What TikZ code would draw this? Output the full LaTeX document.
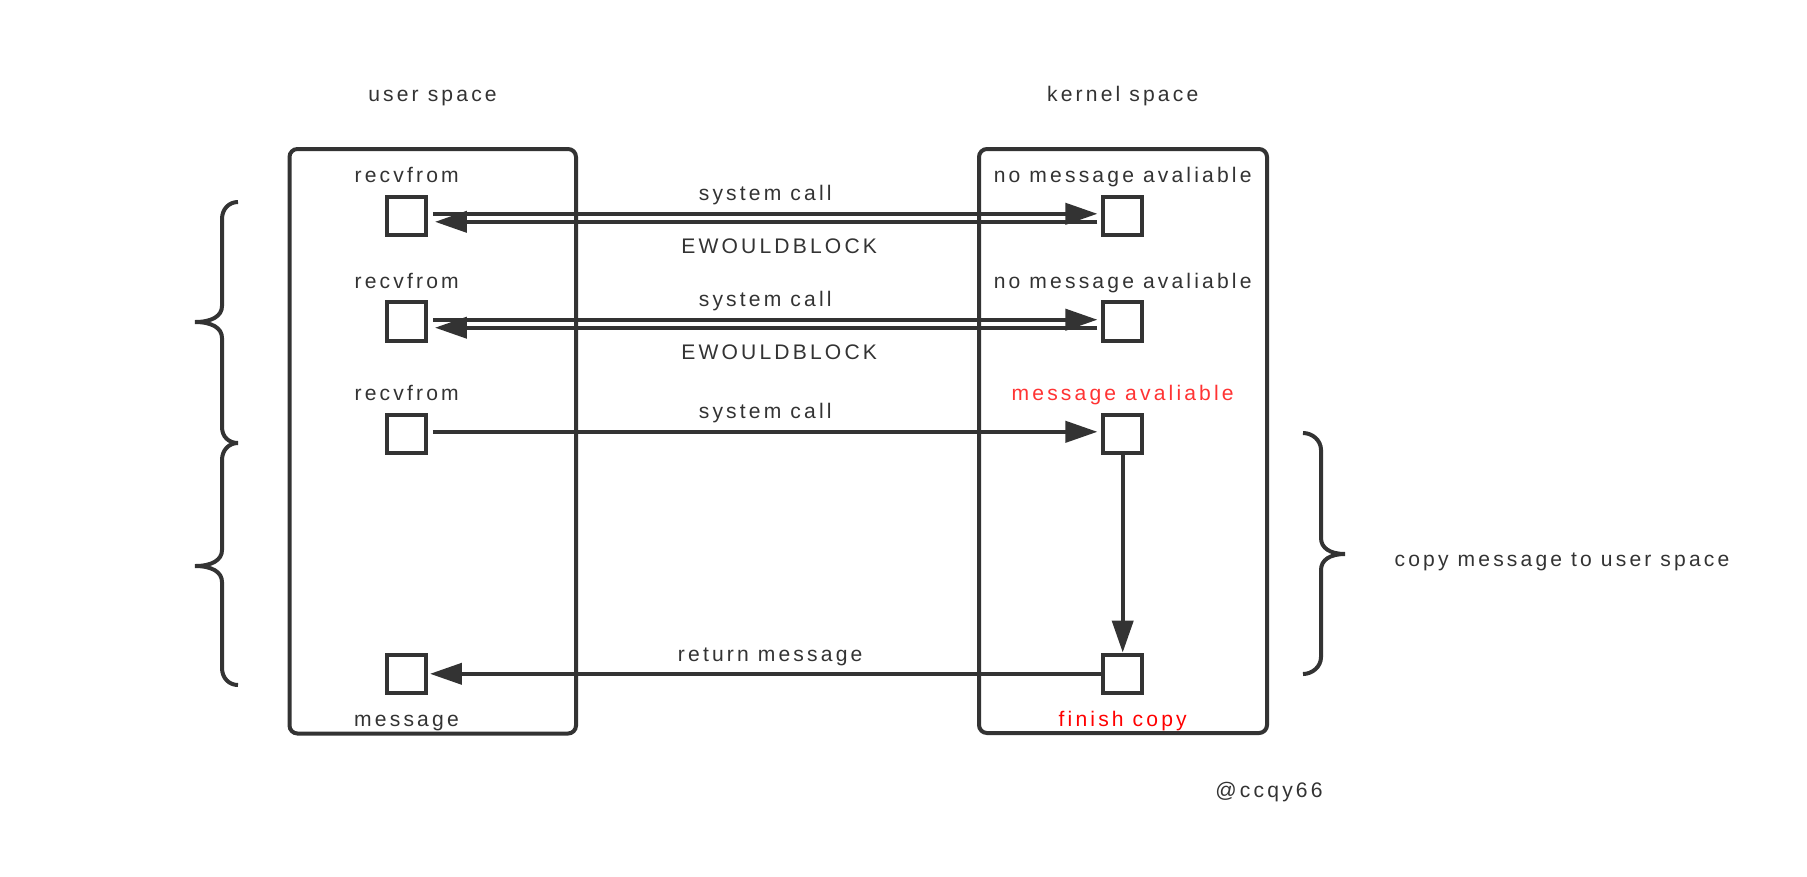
\documentclass[tikz,border=0pt]{standalone}
\usepackage{fontspec}
\setmainfont{Liberation Sans}[LetterSpace=15]
\usetikzlibrary{arrows.meta, calc}

\definecolor{ink}{HTML}{333333}
\definecolor{warn}{HTML}{FF3333}
\definecolor{done}{HTML}{FF0000}

\tikzset{
    sq/.style={draw=ink, line width=0.08cm, minimum size=0.77cm, inner sep=0pt},
    txt/.style={text=ink, anchor=base, inner sep=0pt, font=\fontsize{12}{14}\selectfont},
    arr/.style={draw=ink, line width=0.08cm, -{Triangle[length=0.64cm, width=0.42cm]}},
    frame/.style={draw=ink, line width=0.08cm, rounded corners=0.16cm},
    curly/.style={draw=ink, line width=0.08cm, line cap=butt},
}

\begin{document}
\begin{tikzpicture}[x=0.02cm, y=-0.02cm]
    \useasboundingbox (0,0) rectangle (1807,876);

    \draw[frame] (289.5,149) rectangle (576,733.5);
    \draw[frame] (979,149) rectangle (1267,733);

    \node[txt] (us) at (432.5,101.7) {user space};
    \node[txt] (ks) at (1122.7,101.7) {kernel space};

    \node[sq] (u1) at (406.7,215.8) {};
    \node[sq] (u2) at (406.7,321.7) {};
    \node[sq] (u3) at (406.7,433.8) {};
    \node[sq] (u4) at (406.7,673.8) {};
    \node[sq] (k1) at (1122.7,215.8) {};
    \node[sq] (k2) at (1122.7,321.7) {};
    \node[sq] (k3) at (1122.7,433.8) {};
    \node[sq] (k4) at (1122.7,673.8) {};

    \node[txt] (r1) at (406.7,182.7) {recvfrom};
    \node[txt] (r2) at (406.7,288) {recvfrom};
    \node[txt] (r3) at (406.7,400.7) {recvfrom};
    \node[txt] (m4) at (406.5,726) {message};
    \node[txt] (n1) at (1122.7,182.7) {no message avaliable};
    \node[txt] (n2) at (1122.7,288) {no message avaliable};
    \node[txt, text=warn] (n3) at (1122.7,400.7) {message avaliable};
    \node[txt, text=done] (n4) at (1122.7,726) {finish copy};

    \draw[arr] ($(u1.east)+(5,-2)$) -- ($(k1.west)+(-4,-2)$)
        node[txt, pos=0.5, yshift=0.26cm] {system call};
    \draw[arr] ($(k1.west)+(-4,6)$) -- ($(u1.east)+(7,6)$)
        node[txt, pos=0.5, xshift=0.26cm, yshift=-0.626cm] {EWOULDBLOCK};
    \draw[arr] ($(u2.east)+(5,-2)$) -- ($(k2.west)+(-4,-2)$)
        node[txt, pos=0.5, yshift=0.26cm] {system call};
    \draw[arr] ($(k2.west)+(-4,6)$) -- ($(u2.east)+(7,6)$)
        node[txt, pos=0.5, xshift=0.26cm, yshift=-0.626cm] {EWOULDBLOCK};
    \draw[arr] ($(u3.east)+(5,-2)$) -- ($(k3.west)+(-4,-2)$)
        node[txt, pos=0.5, yshift=0.26cm] {system call};
    \draw[arr] (k3.south) -- (k4.north);
    \draw[arr] (k4.west) -- ($(u4.east)+(2,0)$)
        node[txt, pos=0.5, xshift=0.09cm, yshift=0.246cm] {return message};

    \draw[curly] (238,202) .. controls (229,202) and (222,209) .. (222,219)
        -- (222,306) .. controls (222,316) and (212,322) .. (195,322)
        .. controls (212,322) and (222,328) .. (222,338)
        -- (222,427) .. controls (222,437) and (229,443) .. (238,443);
    \draw[curly] (238,443) .. controls (229,443) and (222,450) .. (222,460)
        -- (222,550) .. controls (222,560) and (212,566) .. (195,566)
        .. controls (212,566) and (222,572) .. (222,582)
        -- (222,668) .. controls (222,678) and (229,685) .. (238,685);
    \draw[curly] (1303,433) .. controls (1312,433) and (1321,440) .. (1321,450)
        -- (1321,538) .. controls (1321,548) and (1330,554) .. (1345,554)
        .. controls (1330,554) and (1321,560) .. (1321,570)
        -- (1321,657) .. controls (1321,667) and (1312,674) .. (1303,674);

    \node[txt] (cp) at (1562,566.7) {copy message to user space};
    \node[txt] (at) at (1269,797) {@ccqy66};
\end{tikzpicture}
\end{document}
